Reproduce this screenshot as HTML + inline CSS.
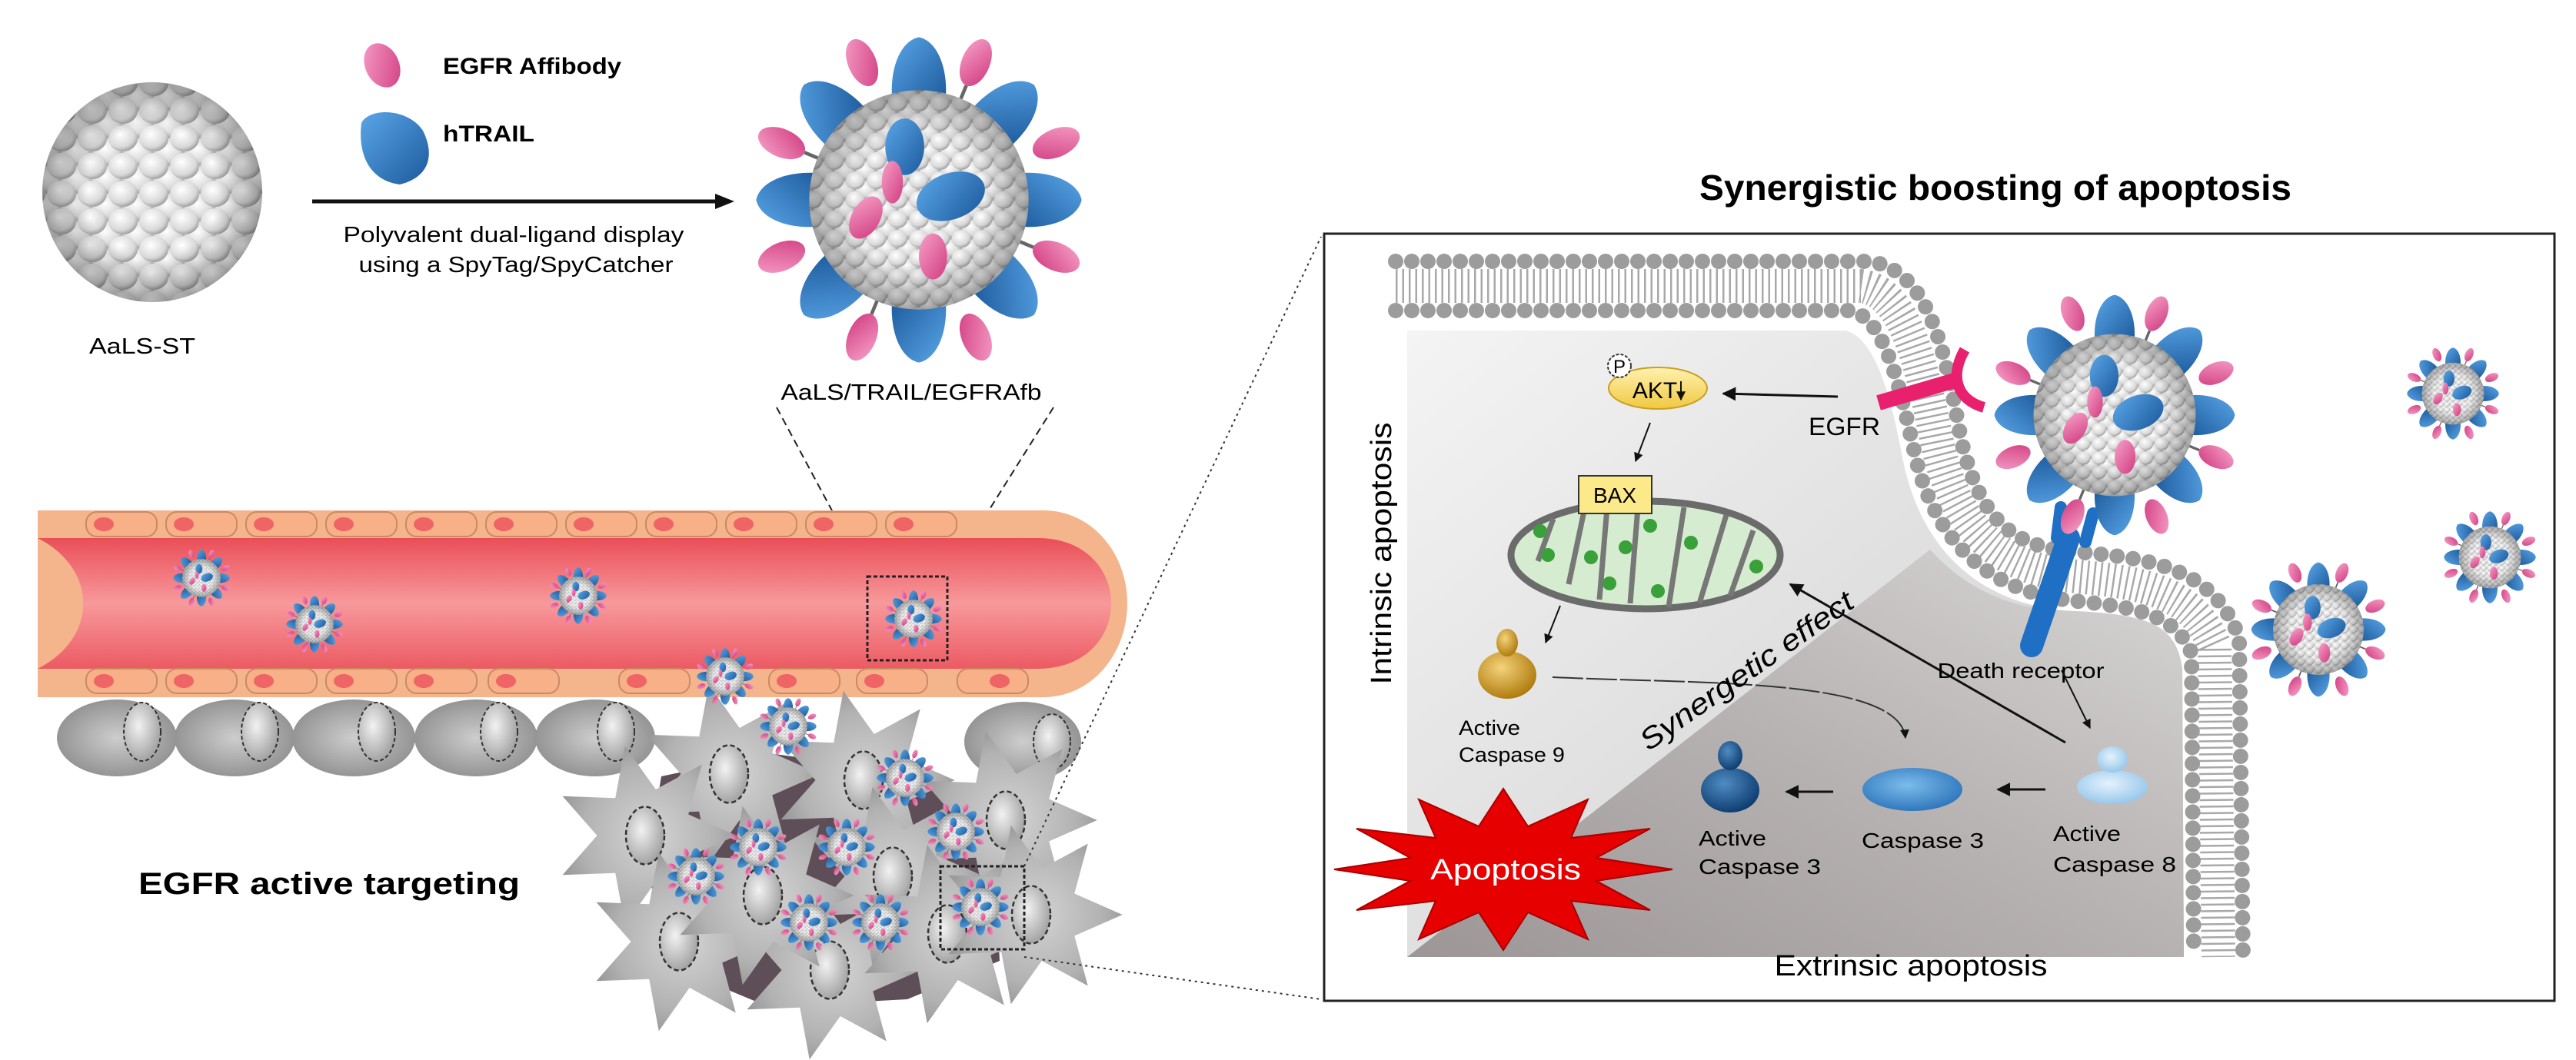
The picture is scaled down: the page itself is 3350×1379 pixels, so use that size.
<!DOCTYPE html>
<html><head><meta charset="utf-8"><style>html,body{margin:0;padding:0;background:#fff}svg{display:block}text{font-family:"Liberation Sans",Arial,sans-serif}</style></head><body>
<svg width="3350" height="1379" viewBox="0 0 3350 1379" xmlns="http://www.w3.org/2000/svg">
<defs>
<radialGradient id="core" cx="40%" cy="35%" r="65%"><stop offset="0" stop-color="#ffffff"/><stop offset="0.6" stop-color="#d0d0d0"/><stop offset="1" stop-color="#7a7a7a"/></radialGradient>
<radialGradient id="bump" cx="40%" cy="35%" r="70%"><stop offset="0" stop-color="#fff"/><stop offset="0.7" stop-color="#d8d8d8"/><stop offset="1" stop-color="#959595"/></radialGradient>
<pattern id="bumps" width="40" height="36" patternUnits="userSpaceOnUse"><rect width="40" height="36" fill="#c4c4c4"/><ellipse cx="20" cy="18" rx="19" ry="17" fill="url(#bump)"/><ellipse cx="0" cy="0" rx="19" ry="17" fill="url(#bump)"/><ellipse cx="40" cy="0" rx="19" ry="17" fill="url(#bump)"/><ellipse cx="0" cy="36" rx="19" ry="17" fill="url(#bump)"/><ellipse cx="40" cy="36" rx="19" ry="17" fill="url(#bump)"/></pattern>
<pattern id="bumps2" width="12" height="11" patternUnits="userSpaceOnUse"><rect width="12" height="11" fill="#b5b5b5"/><ellipse cx="6" cy="5.5" rx="5.5" ry="5" fill="url(#bump)"/><ellipse cx="0" cy="0" rx="5.5" ry="5" fill="url(#bump)"/><ellipse cx="12" cy="0" rx="5.5" ry="5" fill="url(#bump)"/><ellipse cx="0" cy="11" rx="5.5" ry="5" fill="url(#bump)"/><ellipse cx="12" cy="11" rx="5.5" ry="5" fill="url(#bump)"/></pattern>
<radialGradient id="shade" cx="50%" cy="50%" r="50%"><stop offset="0.6" stop-color="#000" stop-opacity="0"/><stop offset="1" stop-color="#000" stop-opacity="0.3"/></radialGradient>
<linearGradient id="blue" x1="0" y1="0" x2="1" y2="1"><stop offset="0" stop-color="#5aa6e8"/><stop offset="1" stop-color="#1c5a9c"/></linearGradient>
<linearGradient id="pink" x1="0" y1="0" x2="1" y2="1"><stop offset="0" stop-color="#f7a0c8"/><stop offset="1" stop-color="#d03c80"/></linearGradient>
<symbol id="np" viewBox="-100 -100 200 200">
<g fill="url(#pink)">
<ellipse cx="0" cy="-84" rx="8" ry="14" transform="rotate(22.5)"/><ellipse cx="0" cy="-84" rx="8" ry="14" transform="rotate(67.5)"/><ellipse cx="0" cy="-84" rx="8" ry="14" transform="rotate(112.5)"/><ellipse cx="0" cy="-84" rx="8" ry="14" transform="rotate(157.5)"/><ellipse cx="0" cy="-84" rx="8" ry="14" transform="rotate(202.5)"/><ellipse cx="0" cy="-84" rx="8" ry="14" transform="rotate(247.5)"/><ellipse cx="0" cy="-84" rx="8" ry="14" transform="rotate(292.5)"/><ellipse cx="0" cy="-84" rx="8" ry="14" transform="rotate(337.5)"/>
</g>
<g stroke="#666" stroke-width="2"><line x1="0" y1="-58" x2="0" y2="-70" transform="rotate(22.5)"/><line x1="0" y1="-58" x2="0" y2="-70" transform="rotate(112.5)"/><line x1="0" y1="-58" x2="0" y2="-70" transform="rotate(202.5)"/><line x1="0" y1="-58" x2="0" y2="-70" transform="rotate(292.5)"/></g>
<g fill="url(#blue)">
<path d="M-15 -55 C-17 -75 -10 -90 0 -92 C10 -90 17 -75 15 -55 Z"/><path d="M-15 -55 C-17 -75 -10 -90 0 -92 C10 -90 17 -75 15 -55 Z" transform="rotate(45)"/><path d="M-15 -55 C-17 -75 -10 -90 0 -92 C10 -90 17 -75 15 -55 Z" transform="rotate(90)"/><path d="M-15 -55 C-17 -75 -10 -90 0 -92 C10 -90 17 -75 15 -55 Z" transform="rotate(135)"/><path d="M-15 -55 C-17 -75 -10 -90 0 -92 C10 -90 17 -75 15 -55 Z" transform="rotate(180)"/><path d="M-15 -55 C-17 -75 -10 -90 0 -92 C10 -90 17 -75 15 -55 Z" transform="rotate(225)"/><path d="M-15 -55 C-17 -75 -10 -90 0 -92 C10 -90 17 -75 15 -55 Z" transform="rotate(270)"/><path d="M-15 -55 C-17 -75 -10 -90 0 -92 C10 -90 17 -75 15 -55 Z" transform="rotate(315)"/>
</g>
<circle r="62" fill="url(#bumps2)"/><circle r="62" fill="url(#shade)"/>
<ellipse cx="18" cy="-2" rx="20" ry="13" fill="url(#blue)" transform="rotate(-20 18 -2)"/><ellipse cx="-8" cy="-30" rx="11" ry="16" fill="url(#blue)"/><ellipse cx="-30" cy="10" rx="8" ry="13" fill="url(#pink)" transform="rotate(30 -30 10)"/><ellipse cx="8" cy="32" rx="8" ry="13" fill="url(#pink)"/><ellipse cx="-15" cy="-10" rx="6" ry="12" fill="url(#pink)"/>
</symbol>
<radialGradient id="tcg" cx="50%" cy="50%" r="55%"><stop offset="0" stop-color="#d4d4d4"/><stop offset="0.7" stop-color="#b2b2b2"/><stop offset="1" stop-color="#959595"/></radialGradient>
<radialGradient id="nuc" cx="40%" cy="40%" r="60%"><stop offset="0" stop-color="#f2f2f2"/><stop offset="1" stop-color="#a5a5a5"/></radialGradient>
<symbol id="tc" viewBox="-100 -100 200 200"><polygon points="95,0 45,22 59,74 11,48 -21,93 -31,39 -86,41 -50,0 -86,-41 -31,-39 -21,-93 11,-48 59,-74 45,-22" fill="url(#tcg)"/><ellipse rx="20" ry="30" fill="url(#nuc)" stroke="#333" stroke-width="2" stroke-dasharray="5 3"/></symbol>
<radialGradient id="gc" cx="50%" cy="50%" r="55%"><stop offset="0" stop-color="#cdcdcd"/><stop offset="1" stop-color="#8f8f8f"/></radialGradient>
<linearGradient id="lumen" x1="0" y1="0" x2="0" y2="1"><stop offset="0" stop-color="#ea4e57"/><stop offset="0.5" stop-color="#f7999b"/><stop offset="1" stop-color="#ec5a63"/></linearGradient>
<linearGradient id="cyt" x1="0" y1="0" x2="1" y2="1"><stop offset="0" stop-color="#f4f4f4"/><stop offset="0.6" stop-color="#dcdcdc"/><stop offset="1" stop-color="#c9c9c9"/></linearGradient>
<linearGradient id="cyt2" x1="0" y1="1" x2="1" y2="0"><stop offset="0" stop-color="#9c9696"/><stop offset="0.5" stop-color="#b7b2b2"/><stop offset="1" stop-color="#d8d6d6"/></linearGradient>
<radialGradient id="gold" cx="40%" cy="35%" r="65%"><stop offset="0" stop-color="#f5d27a"/><stop offset="1" stop-color="#b07d10"/></radialGradient>
<radialGradient id="dblue" cx="40%" cy="35%" r="65%"><stop offset="0" stop-color="#4f8cc4"/><stop offset="1" stop-color="#0f3f72"/></radialGradient>
<radialGradient id="mblue" cx="45%" cy="40%" r="65%"><stop offset="0" stop-color="#7cbcec"/><stop offset="1" stop-color="#2a72b8"/></radialGradient>
<radialGradient id="lblue" cx="45%" cy="40%" r="65%"><stop offset="0" stop-color="#e4f2fc"/><stop offset="1" stop-color="#92c4ea"/></radialGradient>
<linearGradient id="akt" x1="0" y1="0" x2="0" y2="1"><stop offset="0" stop-color="#fff1b0"/><stop offset="1" stop-color="#f0c840"/></linearGradient>
<marker id="ah" viewBox="0 0 10 10" refX="9" refY="5" markerWidth="6" markerHeight="6" orient="auto"><path d="M0 0 L10 5 L0 10 Z" fill="#111"/></marker>
</defs>

<!-- TOP LEFT -->
<circle cx="198" cy="250" r="143" fill="url(#bumps)"/><circle cx="198" cy="250" r="143" fill="url(#shade)"/>
<text x="185" y="460" font-size="29" text-anchor="middle" textLength="138" lengthAdjust="spacingAndGlyphs">AaLS-ST</text>
<ellipse cx="497" cy="85" rx="22" ry="30" fill="url(#pink)" transform="rotate(-25 497 85)"/>
<path d="M470 160 C480 140 530 140 550 170 C565 200 560 230 520 240 C480 235 465 200 470 160 Z" fill="url(#blue)"/>
<text x="576" y="96" font-size="30" font-weight="bold" textLength="232" lengthAdjust="spacingAndGlyphs">EGFR Affibody</text>
<text x="576" y="184" font-size="30" font-weight="bold" textLength="119" lengthAdjust="spacingAndGlyphs">hTRAIL</text>
<line x1="406" y1="262" x2="935" y2="262" stroke="#111" stroke-width="5"/><path d="M930 252 L955 262 L930 272 Z" fill="#111"/>
<text x="668" y="315" font-size="29" text-anchor="middle" textLength="443" lengthAdjust="spacingAndGlyphs">Polyvalent dual-ligand display</text>
<text x="671" y="354" font-size="29" text-anchor="middle" textLength="409" lengthAdjust="spacingAndGlyphs">using a SpyTag/SpyCatcher</text>
<use href="#np" x="965" y="30" width="460" height="460"/>
<text x="1185" y="520" font-size="29" text-anchor="middle" textLength="339" lengthAdjust="spacingAndGlyphs">AaLS/TRAIL/EGFRAfb</text>
<g stroke="#222" stroke-width="2" stroke-dasharray="10 6" fill="none"><line x1="1010" y1="530" x2="1128" y2="750"/><line x1="1370" y1="530" x2="1232" y2="750"/></g>

<!-- VESSEL -->
<path d="M49 664 L1357 664 C1420 664 1466 720 1466 785 C1466 850 1420 907 1357 907 L49 907 Z" fill="#f4b48c"/>
<path d="M49 700 L1350 700 C1410 700 1445 740 1445 785 C1445 830 1410 870 1350 870 L49 870 C128 830 128 740 49 700 Z" fill="url(#lumen)"/>
<g fill="#f7b088" stroke="#c98a64" stroke-width="2">
<rect x="112" y="666" width="92" height="32" rx="14"/><rect x="216" y="666" width="92" height="32" rx="14"/><rect x="320" y="666" width="92" height="32" rx="14"/><rect x="424" y="666" width="92" height="32" rx="14"/><rect x="528" y="666" width="92" height="32" rx="14"/><rect x="632" y="666" width="92" height="32" rx="14"/><rect x="736" y="666" width="92" height="32" rx="14"/><rect x="840" y="666" width="92" height="32" rx="14"/><rect x="944" y="666" width="92" height="32" rx="14"/><rect x="1048" y="666" width="92" height="32" rx="14"/><rect x="1152" y="666" width="92" height="32" rx="14"/>
<rect x="112" y="870" width="92" height="32" rx="14"/><rect x="216" y="870" width="92" height="32" rx="14"/><rect x="320" y="870" width="92" height="32" rx="14"/><rect x="424" y="870" width="92" height="32" rx="14"/><rect x="528" y="870" width="92" height="32" rx="14"/><rect x="635" y="870" width="92" height="32" rx="14"/><rect x="805" y="870" width="92" height="32" rx="14"/><rect x="1000" y="870" width="92" height="32" rx="14"/><rect x="1114" y="870" width="92" height="32" rx="14"/><rect x="1245" y="870" width="92" height="32" rx="14"/>
</g>
<g fill="#ef6464"><ellipse cx="135" cy="682" rx="13" ry="9"/><ellipse cx="239" cy="682" rx="13" ry="9"/><ellipse cx="343" cy="682" rx="13" ry="9"/><ellipse cx="447" cy="682" rx="13" ry="9"/><ellipse cx="551" cy="682" rx="13" ry="9"/><ellipse cx="655" cy="682" rx="13" ry="9"/><ellipse cx="759" cy="682" rx="13" ry="9"/><ellipse cx="863" cy="682" rx="13" ry="9"/><ellipse cx="967" cy="682" rx="13" ry="9"/><ellipse cx="1071" cy="682" rx="13" ry="9"/><ellipse cx="1175" cy="682" rx="13" ry="9"/>
<ellipse cx="135" cy="886" rx="13" ry="9"/><ellipse cx="239" cy="886" rx="13" ry="9"/><ellipse cx="343" cy="886" rx="13" ry="9"/><ellipse cx="447" cy="886" rx="13" ry="9"/><ellipse cx="551" cy="886" rx="13" ry="9"/><ellipse cx="658" cy="886" rx="13" ry="9"/><ellipse cx="828" cy="886" rx="13" ry="9"/><ellipse cx="1023" cy="886" rx="13" ry="9"/><ellipse cx="1137" cy="886" rx="13" ry="9"/><ellipse cx="1300" cy="886" rx="13" ry="9"/></g>

<!-- gray cells row -->
<g fill="url(#gc)"><ellipse cx="152" cy="960" rx="78" ry="50"/><ellipse cx="305" cy="960" rx="78" ry="50"/><ellipse cx="460" cy="960" rx="80" ry="50"/><ellipse cx="619" cy="960" rx="80" ry="50"/><ellipse cx="774" cy="960" rx="78" ry="50"/><ellipse cx="1330" cy="965" rx="76" ry="52"/></g>
<g fill="url(#nuc)" stroke="#333" stroke-width="2" stroke-dasharray="5 3"><ellipse cx="185" cy="952" rx="24" ry="38"/><ellipse cx="338" cy="952" rx="24" ry="38"/><ellipse cx="490" cy="952" rx="24" ry="38"/><ellipse cx="649" cy="952" rx="24" ry="38"/><ellipse cx="801" cy="952" rx="24" ry="38"/><ellipse cx="1368" cy="965" rx="24" ry="36"/></g>

<!-- tumor -->
<path d="M860 1010 L1000 980 L1150 1000 L1290 1060 L1300 1250 L1180 1300 L1000 1310 L880 1260 L840 1130 Z" fill="#5e4e58"/>
<use href="#tc" x="823" y="882" width="250" height="250"/>
<use href="#tc" x="998" y="890" width="250" height="250"/>
<use href="#tc" x="714" y="962" width="250" height="250"/>
<use href="#tc" x="1183" y="942" width="250" height="250"/>
<use href="#tc" x="758" y="1100" width="250" height="250"/>
<use href="#tc" x="954" y="1137" width="250" height="250"/>
<use href="#tc" x="1036" y="1015" width="250" height="250"/>
<use href="#tc" x="867" y="1040" width="250" height="250"/>
<use href="#tc" x="1107" y="1090" width="250" height="250"/>
<use href="#tc" x="1216" y="1065" width="250" height="250"/>

<!-- small NPs -->
<g>
<use href="#np" x="222" y="712" width="80" height="80"/><use href="#np" x="369" y="772" width="80" height="80"/><use href="#np" x="712" y="735" width="80" height="80"/><use href="#np" x="1148" y="765" width="80" height="80"/><use href="#np" x="903" y="840" width="80" height="80"/><use href="#np" x="985" y="905" width="80" height="80"/><use href="#np" x="1137" y="972" width="80" height="80"/><use href="#np" x="865" y="1100" width="80" height="80"/><use href="#np" x="946" y="1062" width="80" height="80"/><use href="#np" x="1061" y="1062" width="80" height="80"/><use href="#np" x="1203" y="1042" width="80" height="80"/><use href="#np" x="1012" y="1160" width="80" height="80"/><use href="#np" x="1105" y="1160" width="80" height="80"/><use href="#np" x="1235" y="1140" width="80" height="80"/>
</g>
<rect x="1128" y="750" width="104" height="109" fill="none" stroke="#222" stroke-width="3" stroke-dasharray="5 3"/>
<rect x="1223" y="1127" width="109" height="108" fill="none" stroke="#222" stroke-width="3" stroke-dasharray="5 3"/>
<g stroke="#333" stroke-width="2" stroke-dasharray="3 5" fill="none"><line x1="1332" y1="1127" x2="1718" y2="308"/><line x1="1332" y1="1245" x2="1718" y2="1300"/></g>
<text x="180" y="1163" font-size="40" font-weight="bold" textLength="496" lengthAdjust="spacingAndGlyphs">EGFR active targeting</text>

<!-- RIGHT BOX -->
<text x="2595" y="260" font-size="46" font-weight="bold" text-anchor="middle" textLength="770" lengthAdjust="spacingAndGlyphs">Synergistic boosting of apoptosis</text>
<rect x="1722" y="304" width="1600" height="998" fill="#fff" stroke="#222" stroke-width="3"/>
<path d="M1830 430 L2400 430 C2440 440 2460 520 2475 600 C2500 720 2580 790 2700 795 C2790 800 2830 810 2838 870 L2840 1245 L1830 1245 Z" fill="url(#cyt)"/>
<path d="M1830 1245 L2510 715 C2560 770 2620 795 2700 795 C2790 800 2830 810 2838 870 L2840 1245 Z" fill="url(#cyt2)"/>
<!-- membrane -->
<g fill="none">
<path d="M1815 372 L2420 372 C2480 380 2500 480 2520 580 C2545 690 2600 740 2700 750 C2790 758 2850 770 2880 840 L2885 1245" stroke="#a8a8a8" stroke-width="44" stroke-dasharray="2.5 6"/>
<path d="M1815 404 L2405 404 C2450 410 2470 500 2490 590 C2515 700 2580 770 2700 782 C2780 790 2830 800 2850 850 L2853 1245" stroke="#9c9c9c" stroke-width="20" stroke-dasharray="0 21" stroke-linecap="round"/>
<path d="M1815 340 L2430 340 C2510 350 2530 460 2550 570 C2575 680 2620 712 2700 718 C2800 726 2880 740 2912 830 L2917 1245" stroke="#9c9c9c" stroke-width="20" stroke-dasharray="0 21" stroke-linecap="round"/>
</g>
<!-- pathway -->
<ellipse cx="2156" cy="505" rx="64" ry="27" fill="url(#akt)" stroke="#c9a020" stroke-width="2"/>
<circle cx="2106" cy="476" r="15" fill="#fff" stroke="#333" stroke-width="2" stroke-dasharray="4 2"/>
<text x="2106" y="485" font-size="24" text-anchor="middle">P</text>
<text x="2152" y="518" font-size="30" text-anchor="middle">AKT</text>
<line x1="2186" y1="496" x2="2186" y2="520" stroke="#111" stroke-width="2" marker-end="url(#ah)"/>
<line x1="2390" y1="516" x2="2241" y2="512" stroke="#111" stroke-width="3" marker-end="url(#ah)"/>
<text x="2352" y="566" font-size="32" textLength="93" lengthAdjust="spacingAndGlyphs">EGFR</text>
<line x1="2443" y1="524" x2="2545" y2="494" stroke="#e8206e" stroke-width="20"/>
<path d="M2555 455 C2535 490 2545 520 2580 530" fill="none" stroke="#e8206e" stroke-width="14"/>
<line x1="2146" y1="550" x2="2127" y2="600" stroke="#111" stroke-width="2" marker-end="url(#ah)"/>
<ellipse cx="2140" cy="722" rx="175" ry="70" fill="#d6ecd0" stroke="#6b6b6b" stroke-width="9"/>
<g stroke="#777" stroke-width="7" fill="none"><line x1="2000" y1="730" x2="2020" y2="675"/><line x1="2040" y1="760" x2="2060" y2="665"/><line x1="2080" y1="780" x2="2090" y2="660"/><line x1="2120" y1="785" x2="2130" y2="660"/><line x1="2170" y1="790" x2="2190" y2="660"/><line x1="2210" y1="785" x2="2245" y2="670"/><line x1="2250" y1="775" x2="2280" y2="690"/></g>
<g fill="#3aa03a"><circle cx="2003" cy="691" r="9"/><circle cx="2013" cy="722" r="9"/><circle cx="2069" cy="725" r="9"/><circle cx="2093" cy="759" r="9"/><circle cx="2114" cy="712" r="9"/><circle cx="2146" cy="684" r="9"/><circle cx="2156" cy="769" r="9"/><circle cx="2199" cy="706" r="9"/><circle cx="2284" cy="737" r="9"/></g>
<rect x="2053" y="619" width="95" height="49" fill="#fce98a" stroke="#333" stroke-width="2"/>
<text x="2100" y="654" font-size="28" text-anchor="middle">BAX</text>
<line x1="2029" y1="788" x2="2010" y2="836" stroke="#111" stroke-width="2" marker-end="url(#ah)"/>
<ellipse cx="1960" cy="878" rx="38" ry="31" fill="url(#gold)"/><ellipse cx="1960" cy="836" rx="14" ry="18" fill="url(#gold)"/>
<text x="1897" y="956" font-size="27" textLength="80" lengthAdjust="spacingAndGlyphs">Active</text>
<text x="1897" y="991" font-size="27" textLength="138" lengthAdjust="spacingAndGlyphs">Caspase 9</text>
<path d="M2019 881 C2200 890 2470 880 2478 960" fill="none" stroke="#333" stroke-width="2" stroke-dasharray="40 4" marker-end="url(#ah)"/>
<text x="2273" y="885" font-size="38" font-style="italic" text-anchor="middle" transform="rotate(-35 2273 875)" textLength="330" lengthAdjust="spacingAndGlyphs">Synergetic effect</text>
<line x1="2686" y1="966" x2="2328" y2="760" stroke="#111" stroke-width="3" marker-end="url(#ah)"/>
<path d="M2642 840 L2690 700" stroke="#1f6fc4" stroke-width="30" stroke-linecap="round" fill="none"/>
<path d="M2675 700 L2680 660 M2712 705 L2722 668" stroke="#1f6fc4" stroke-width="16" stroke-linecap="round"/>
<text x="2628" y="882" font-size="28" text-anchor="middle" textLength="217" lengthAdjust="spacingAndGlyphs">Death receptor</text>
<line x1="2681" y1="872" x2="2718" y2="947" stroke="#111" stroke-width="2" marker-end="url(#ah)"/>
<ellipse cx="2747" cy="1024" rx="46" ry="22" fill="url(#lblue)"/><ellipse cx="2747" cy="988" rx="20" ry="17" fill="url(#lblue)"/>
<text x="2670" y="1094" font-size="28" textLength="88" lengthAdjust="spacingAndGlyphs">Active</text>
<text x="2670" y="1134" font-size="28" textLength="160" lengthAdjust="spacingAndGlyphs">Caspase 8</text>
<line x1="2660" y1="1027" x2="2598" y2="1027" stroke="#111" stroke-width="3" marker-end="url(#ah)"/>
<ellipse cx="2487" cy="1027" rx="65" ry="28" fill="url(#mblue)"/>
<text x="2421" y="1103" font-size="28" textLength="159" lengthAdjust="spacingAndGlyphs">Caspase 3</text>
<line x1="2384" y1="1030" x2="2323" y2="1030" stroke="#111" stroke-width="3" marker-end="url(#ah)"/>
<ellipse cx="2250" cy="1028" rx="38" ry="29" fill="url(#dblue)"/><ellipse cx="2250" cy="983" rx="16" ry="19" fill="url(#dblue)"/>
<text x="2209" y="1100" font-size="28" textLength="88" lengthAdjust="spacingAndGlyphs">Active</text>
<text x="2209" y="1137" font-size="28" textLength="159" lengthAdjust="spacingAndGlyphs">Caspase 3</text>
<polygon points="2175,1131 2076,1146 2146,1184 2043,1172 2065,1222 1987,1187 1955,1236 1923,1187 1845,1222 1867,1172 1764,1184 1834,1146 1735,1131 1834,1116 1764,1078 1867,1090 1845,1040 1923,1075 1955,1026 1987,1075 2065,1040 2043,1090 2146,1078 2076,1116" fill="#e60000" stroke="#a00" stroke-width="2"/>
<text x="1958" y="1144" font-size="38" fill="#fff" text-anchor="middle" textLength="196" lengthAdjust="spacingAndGlyphs">Apoptosis</text>
<text x="0" y="0" font-size="38" text-anchor="middle" transform="translate(1809 720) rotate(-90)" textLength="341" lengthAdjust="spacingAndGlyphs">Intrinsic apoptosis</text>
<text x="2485" y="1269" font-size="38" text-anchor="middle" textLength="355" lengthAdjust="spacingAndGlyphs">Extrinsic apoptosis</text>
<!-- NPs in box -->
<use href="#np" x="2580" y="370" width="340" height="340"/>
<use href="#np" x="3125" y="447" width="130" height="130"/>
<use href="#np" x="3173" y="660" width="130" height="130"/>
<use href="#np" x="2920" y="724" width="190" height="190"/>
</svg>
</body></html>
